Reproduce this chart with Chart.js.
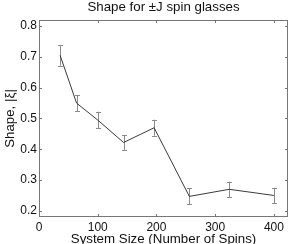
<!DOCTYPE html>
<html>
<head>
<meta charset="utf-8">
<script src="https://cdn.jsdelivr.net/npm/chart.js@4"></script>
<style>
  body { margin: 0; background: #fff; }
  canvas { display: block; }
</style>
</head>
<body>
<canvas id="shape_chart" width="291" height="244"></canvas>
<script>
'use strict';

const sizes = [36, 64, 100, 144, 196, 256, 324, 400];
const shape = [0.705, 0.55, 0.495, 0.422, 0.47, 0.247, 0.27, 0.25];
const shape_err = [0.033, 0.026, 0.027, 0.024, 0.026, 0.026, 0.025, 0.025];
const x_ticks = [0, 100, 200, 300, 400];
const y_ticks = [0.2, 0.3, 0.4, 0.5, 0.6, 0.7, 0.8];

const font_family = '"Liberation Sans", Arial, Helvetica, sans-serif';

// error bars, drawn under the line
const error_bars = {
    id: 'error_bars',
    beforeDatasetsDraw(chart) {
        const {ctx, scales: {x, y}} = chart;
        ctx.save();
        ctx.strokeStyle = '#8a8a8a';
        ctx.lineWidth = 1;
        sizes.forEach((s, i) => {
            const px = Math.round(x.getPixelForValue(s)) + 0.5;
            const top = y.getPixelForValue(shape[i] + shape_err[i]);
            const bot = y.getPixelForValue(shape[i] - shape_err[i]);
            ctx.beginPath();
            ctx.moveTo(px, top);
            ctx.lineTo(px, bot);
            ctx.moveTo(px - 2.5, Math.round(top) + 0.5);
            ctx.lineTo(px + 2.5, Math.round(top) + 0.5);
            ctx.moveTo(px - 2.5, Math.round(bot) + 0.5);
            ctx.lineTo(px + 2.5, Math.round(bot) + 0.5);
            ctx.stroke();
        });
        ctx.restore();
    }
};

// box round the plot with inward ticks on every side
const box_ticks = {
    id: 'box_ticks',
    afterDraw(chart) {
        const {ctx, chartArea: a, scales: {x, y}} = chart;
        const len = 3;
        ctx.save();
        ctx.strokeStyle = '#777';
        ctx.lineWidth = 1;
        ctx.beginPath();
        x_ticks.forEach(v => {
            const px = Math.round(x.getPixelForValue(v)) + 0.5;
            ctx.moveTo(px, a.bottom);
            ctx.lineTo(px, a.bottom - len);
            ctx.moveTo(px, a.top);
            ctx.lineTo(px, a.top + len);
        });
        y_ticks.forEach(v => {
            const py = Math.round(y.getPixelForValue(v)) + 0.5;
            ctx.moveTo(a.left, py);
            ctx.lineTo(a.left + len, py);
            ctx.moveTo(a.right, py);
            ctx.lineTo(a.right - len, py);
        });
        ctx.stroke();
        ctx.strokeRect(Math.round(a.left) + 0.5, Math.round(a.top) + 0.5,
            Math.round(a.right - a.left) - 1, Math.round(a.bottom - a.top) - 1);
        ctx.restore();
    }
};

const mychart = document.getElementById('shape_chart');

new Chart(mychart, {
    type: 'line',
    data: {
        datasets: [{
            data: sizes.map((s, i) => ({x: s, y: shape[i]})),
            borderColor: '#3a3a3a',
            borderWidth: 1,
            pointRadius: 0,
            tension: 0,
            fill: false,
        }],
    },
    options: {
        responsive: false,
        animation: false,
        layout: {padding: {top: 0, right: 3, bottom: 0, left: 0}},
        plugins: {
            legend: {display: false},
            tooltip: {enabled: false},
            title: {
                display: true,
                fullSize: false,
                text: 'Shape for \u00b1J spin glasses',
                color: '#111',
                font: {family: font_family, size: 13.3, weight: 'normal', lineHeight: '16px'},
                padding: {top: -1, bottom: 5},
            },
        },
        scales: {
            x: {
                type: 'linear',
                min: 0,
                max: 424,
                afterBuildTicks: (scale) => { scale.ticks = x_ticks.map(v => ({value: v})); },
                afterFit: (scale) => { scale.height = 27; },
                grid: {display: false, drawTicks: false},
                border: {display: false},
                ticks: {color: '#111', padding: 3, maxRotation: 0,
                    font: {family: font_family, size: 12}},
                title: {
                    display: true,
                    text: 'System Size (Number of Spins)',
                    color: '#111',
                    font: {family: font_family, size: 13.3, lineHeight: '16px'},
                    padding: {top: 0, bottom: -3.5},
                },
            },
            y: {
                type: 'linear',
                min: 0.18,
                max: 0.82,
                afterBuildTicks: (scale) => { scale.ticks = y_ticks.map(v => ({value: v})); },
                afterFit: (scale) => { scale.width = 39; },
                grid: {display: false, drawTicks: false},
                border: {display: false},
                ticks: {color: '#111', padding: 2,
                    font: {family: font_family, size: 12},
                    callback: (v) => v.toFixed(1)},
                title: {
                    display: true,
                    text: 'Shape, |\u03be|',
                    color: '#111',
                    font: {family: font_family, size: 13.3, lineHeight: '16px'},
                    padding: {top: 2, bottom: 0},
                },
            },
        },
    },
    plugins: [error_bars, box_ticks],
});
</script>
</body>
</html>
